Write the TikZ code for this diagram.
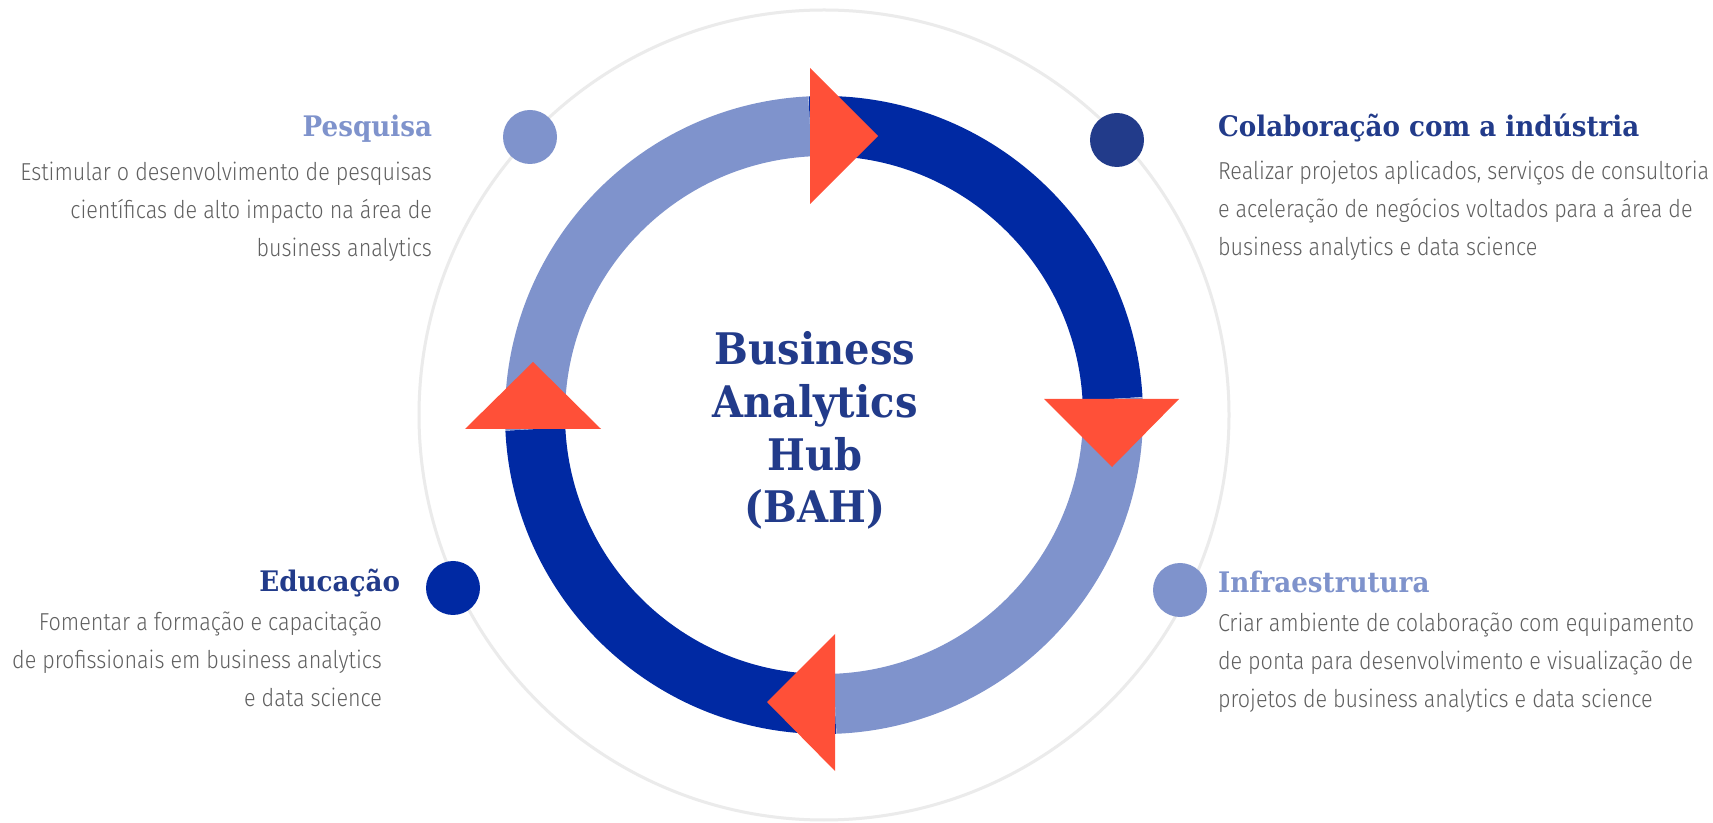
\documentclass[tikz,border=0pt]{standalone}
\usepackage{fontspec}
\newfontfamily\descfont{Fira Sans}[UprightFont={* Light}, FakeStretch=0.88]
\newfontfamily\headfont{DejaVu Serif}[UprightFont={* Bold}, FakeStretch=0.925]
\newfontfamily\hubfont{DejaVu Serif}[UprightFont={* Bold}, FakeStretch=0.92]

\definecolor{ringdark}{HTML}{0029A3}
\definecolor{ringlight}{HTML}{7F93CC}
\definecolor{arrowred}{HTML}{FF5038}
\definecolor{navy}{HTML}{223B8A}
\definecolor{desctext}{HTML}{606060}
\definecolor{orbit}{HTML}{EBEBEB}

\begin{document}
\begin{tikzpicture}[x=1pt,y=1pt]
  \tikzstyle{every node}=[inner sep=0pt, outer sep=0pt]
  \tikzstyle{title}=[font=\headfont\fontsize{28.3}{32}\selectfont]
  \tikzstyle{desc}=[font=\descfont\fontsize{24.5}{38}\selectfont, text=desctext]
  \tikzstyle{segment}=[line width=60pt]
  \tikzstyle{dot}=[circle, minimum size=54pt]

  \fill[white] (0,0) rectangle (1713,822);
  \useasboundingbox (0,0) rectangle (1713,822);

  \coordinate (hubc) at (824,407);

  % thin orbit behind the ring
  \draw[orbit, line width=3pt] (hubc) circle [radius=405];

  % the four ring segments
  \draw[segment, ringdark] (hubc) ++(3.2:289) arc [start angle=3.2, end angle=92.8, radius=289];
  \draw[segment, ringlight] (hubc) ++(92.8:289) arc [start angle=92.8, end angle=182.8, radius=289];
  \draw[segment, ringdark] (hubc) ++(182.8:289) arc [start angle=182.8, end angle=272.2, radius=289];
  \draw[segment, ringlight] (hubc) ++(-87.8:289) arc [start angle=-87.8, end angle=3.2, radius=289];

  % arrow heads
  \fill[arrowred] (810,754) -- (810,618) -- (878,686) -- cycle;
  \fill[arrowred] (1044,423) -- (1179,423) -- (1112,355) -- cycle;
  \fill[arrowred] (835,188) -- (835,51) -- (767,120) -- cycle;
  \fill[arrowred] (465,393) -- (601,393) -- (533,460) -- cycle;

  % dots on the orbit
  \node[dot, fill=ringlight] (pesqdot) at (530,685) {};
  \node[dot, fill=navy] (colabdot) at (1117,682) {};
  \node[dot, fill=ringdark] (educdot) at (453,234) {};
  \node[dot, fill=ringlight] (infradot) at (1180,232) {};

  % centre (base = last line)
  \node[font=\hubfont\fontsize{43.5}{52.7}\selectfont, text=navy, align=center, anchor=base] (hub) at (815,299) {Business\\Analytics\\Hub\\(BAH)};

  % Pesquisa
  \node[title, text=ringlight, anchor=base east] (pesqtitle) at (432,685) {Pesquisa};
  \node[desc, align=right, anchor=base east] (pesqdesc) at (432,565) {Estimular o desenvolvimento de pesquisas\\científicas de alto impacto na área de\\business analytics};

  % Colaboracao
  \node[title, text=navy, anchor=base west] (colabtitle) at (1218,685) {Colaboração com a indústria};
  \node[desc, align=left, anchor=base west] (colabdesc) at (1218,566) {Realizar projetos aplicados, serviços de consultoria\\e aceleração de negócios voltados para a área de\\business analytics e data science};

  % Educacao
  \node[title, text=navy, anchor=base east] (eductitle) at (400,230) {Educação};
  \node[desc, align=right, anchor=base east] (educdesc) at (382,115) {Fomentar a formação e capacitação\\de profissionais em business analytics\\e data science};

  % Infraestrutura
  \node[title, text=ringlight, anchor=base west] (infratitle) at (1218,229) {Infraestrutura};
  \node[desc, align=left, anchor=base west] (infradesc) at (1218,114) {Criar ambiente de colaboração com equipamento\\de ponta para desenvolvimento e visualização de\\projetos de business analytics e data science};

\end{tikzpicture}
\end{document}
